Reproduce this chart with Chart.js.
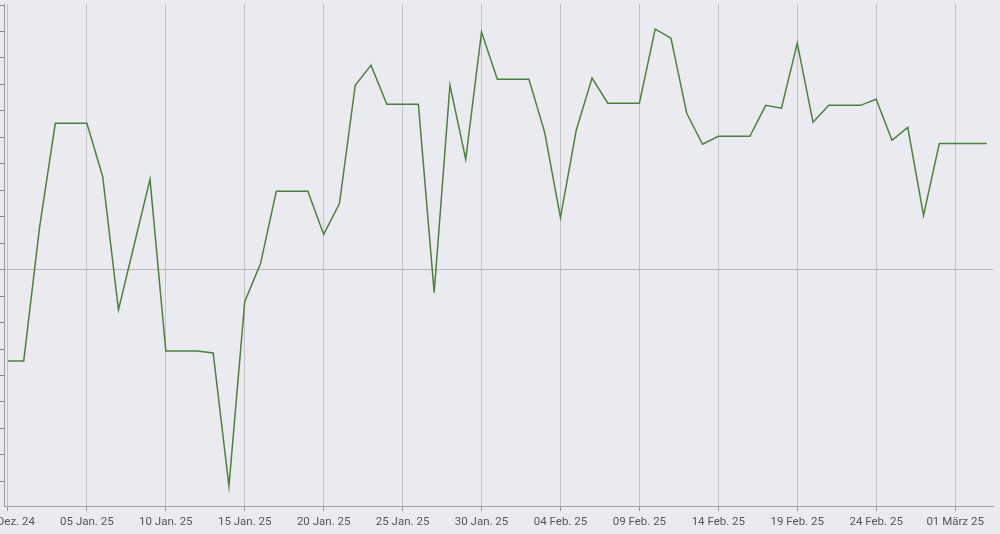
<!DOCTYPE html>
<html lang="de">
<head>
  <meta charset="UTF-8" />
  <title>Verlauf</title>
  <script src="https://cdn.jsdelivr.net/npm/chart.js"></script>
  <style>
    * { box-sizing: border-box; margin: 0; padding: 0; }
    body { background-color: #e9ebf0; font-family: Roboto, Arial, sans-serif; }
    .chart-wrap { width: 1000px; height: 534px; }
  </style>
</head>
<body>

<div class="chart-wrap">
  <canvas id="lineChart"></canvas>
</div>

<script>
  // daily values, 31 Dez. 24 .. 03 März 25 (one per day, in y tick units)
  const values = [
    -3.45, -3.45, 1.59, 5.53, 5.53, 5.53, 3.52, -1.52, 0.95, 3.41,
    -3.07, -3.07, -3.07, -3.15, -8.18, -1.21, 0.23, 2.96, 2.96, 2.96,
    1.33, 2.50, 6.97, 7.73, 6.25, 6.25, 6.25, -0.87, 6.97, 4.17,
    8.98, 7.20, 7.20, 7.20, 5.19, 1.97, 5.27, 7.24, 6.29, 6.29,
    6.29, 9.09, 8.75, 5.91, 4.74, 5.04, 5.04, 5.04, 6.21, 6.10,
    8.56, 5.57, 6.21, 6.21, 6.21, 6.44, 4.89, 5.38, 2.05, 4.77,
    4.77, 4.77, 4.77
  ];

  // x tick positions (days after 31 Dez. 24) and their labels
  const tickDays = [0, 5, 10, 15, 20, 25, 30, 35, 40, 45, 50, 55, 60];
  const tickLabels = [
    '31 Dez. 24', '05 Jan. 25', '10 Jan. 25', '15 Jan. 25', '20 Jan. 25',
    '25 Jan. 25', '30 Jan. 25', '04 Feb. 25', '09 Feb. 25', '14 Feb. 25',
    '19 Feb. 25', '24 Feb. 25', '01 März 25'
  ];

  // y tick marks (no labels shown)
  const yTicks = [-8, -7, -6, -5, -4, -3, -2, -1, 0, 1, 2, 3, 4, 5, 6, 7, 8, 9, 10];

  const points = values.map((v, i) => ({ x: i, y: v }));

  const ctx = document.getElementById('lineChart').getContext('2d');
  new Chart(ctx, {
    type: 'line',
    data: {
      datasets: [{
        data: points,
        borderColor: '#4f7f3f',
        borderWidth: 1.5,
        pointRadius: 0,
        tension: 0,
        fill: false
      }]
    },
    options: {
      responsive: true,
      maintainAspectRatio: false,
      animation: false,
      layout: { padding: { top: 4, right: 7, bottom: 1, left: 0 } },
      plugins: {
        legend: { display: false },
        tooltip: { enabled: false }
      },
      scales: {
        x: {
          type: 'linear',
          min: -0.25,
          max: 62.4,
          afterBuildTicks: s => { s.ticks = tickDays.map(v => ({ value: v })); },
          afterFit: s => { s.paddingLeft = 0; s.paddingRight = 0; },
          ticks: {
            autoSkip: false,
            maxRotation: 0,
            padding: 4,
            color: '#555',
            font: { family: 'Roboto', size: 11.5 },
            callback: v => tickLabels[tickDays.indexOf(v)]
          },
          grid: { color: '#c0c2c8', tickColor: '#9a9a9a', tickLength: 5 },
          border: { color: '#a0a0a0' }
        },
        y: {
          min: -8.94,
          max: 10.04,
          afterBuildTicks: s => { s.ticks = yTicks.map(v => ({ value: v })); },
          ticks: { display: false },
          grid: {
            color: c => (c.tick && c.tick.value === 0 ? '#b6b8be' : 'rgba(0,0,0,0)'),
            tickColor: '#8a8a8a',
            tickLength: 4
          },
          border: { color: '#9a9a9a' }
        }
      }
    }
  });
</script>

</body>
</html>
